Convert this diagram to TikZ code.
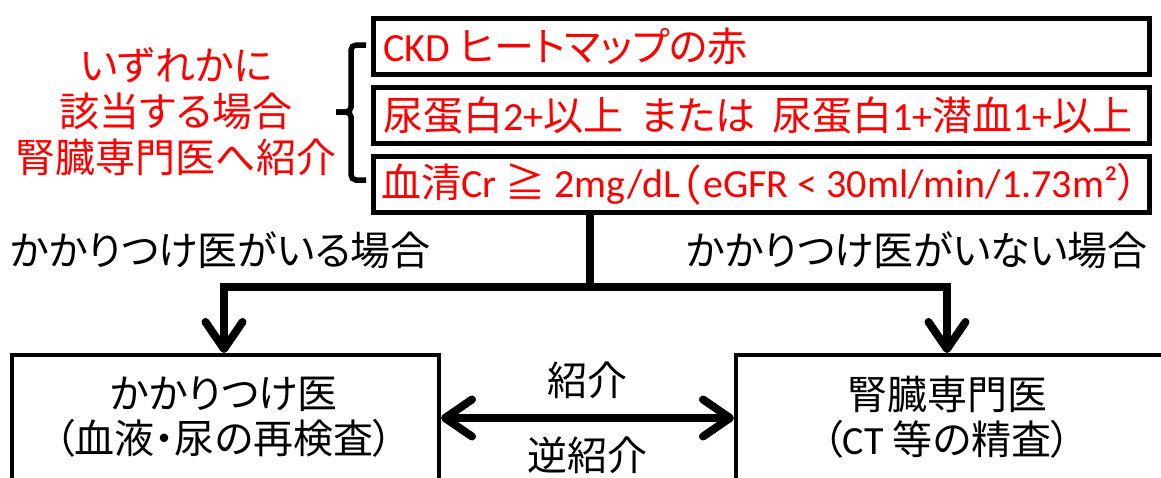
\documentclass[tikz,border=0pt]{standalone}
\usepackage{fontspec}
\setmainfont[RawFeature={+palt}]{Noto Sans CJK JP}
\newfontfamily\hw[RawFeature={+hwid}]{Noto Sans CJK JP}
\newfontfamily\la{Carlito}
\usetikzlibrary{arrows.meta}
\begin{document}
\begin{tikzpicture}[x=1pt,y=-1pt,
  topbox/.style={draw, line width=4.5pt, anchor=north west, minimum width=776pt, minimum height=56pt, inner sep=0pt},
  toptext/.style={anchor=west, text=red, font=\fontsize{40}{44}\selectfont, inner sep=0pt},
  botbox/.style={draw, line width=4pt, anchor=north west, minimum width=427pt, minimum height=160pt, inner sep=0pt},
  bottext/.style={align=center, font=\fontsize{40}{45}\selectfont, inner sep=0pt},
  redtext/.style={align=center, text=red, font=\fontsize{40}{46}\selectfont, inner sep=0pt},
  lbl/.style={font=\fontsize{40}{42}\selectfont, inner sep=0pt},
  conn/.style={line width=8pt},
  barb/.style={conn, -{Straight Barb[length=27pt, width=37pt, round]}},
  dbarb/.style={conn, {Straight Barb[length=27pt, width=37pt, round]}-{Straight Barb[length=27pt, width=37pt, round]}},
]
\useasboundingbox (0,0) rectangle (1161,477);
\clip (0,0) rectangle (1161,477);

% top condition boxes
\node[topbox] (c1) at (371,16) {};
\node[topbox] (c2) at (371,85) {};
\node[topbox] (c3) at (371,154) {};
\node[toptext] (t1) at ([xshift=12pt]c1.west) {{\la CKD }ヒートマップの赤};
\node[toptext] (t2) at ([xshift=12pt]c2.west) {尿蛋白{\la 2+}以上\hspace{17pt}または\hspace{17pt}尿蛋白{\la 1+}潜血{\la 1+}以上};
\node[toptext] (t3) at ([xshift=10pt]c3.west) {血清{\la Cr }≧{\la{} 2mg/dL}\kern3pt{\hw （}{\la eGFR < 30ml/min/1.73m²}）};

% left red text and brace
\node[redtext] (rt) at (176,112) {いずれかに\\該当する場合\\腎臓専門医へ紹介};
\draw[line width=5.5pt, rounded corners=5pt] (366,45) -- (351,45) -- (351,112) -- (336,112);
\draw[line width=5.5pt, rounded corners=5pt] (336,112) -- (351,112) -- (351,180) -- (366,180);

% branch labels
\node[lbl, anchor=west] (bl) at (10,250) {かかりつけ医がいる場合};
\node[lbl, anchor=east] (br) at (1148,250) {かかりつけ医がいない場合};

% bottom boxes
\node[botbox] (L) at (10,353) {};
\node[botbox] (R) at (734,353) {};
\node[bottext] (Lt) at (224,417) {かかりつけ医\\（血液・尿の再検査）};
\node[bottext] (Rt) at (947,417) {腎臓専門医\\（{\la CT }等の精査）};

% connectors
\coordinate (j) at (590,287);
\coordinate (ay) at (0,418);
\draw[conn] (c3.south -| j) -- (j);
\draw[barb] (j) -| (L.north -| Lt);
\draw[barb] (j) -| (R.north -| Rt);
\draw[dbarb] (L.east |- ay) -- node[lbl, yshift=38pt] (n1) {紹介} node[lbl, yshift=-37pt] (n2) {逆紹介} (R.west |- ay);
\end{tikzpicture}
\end{document}
